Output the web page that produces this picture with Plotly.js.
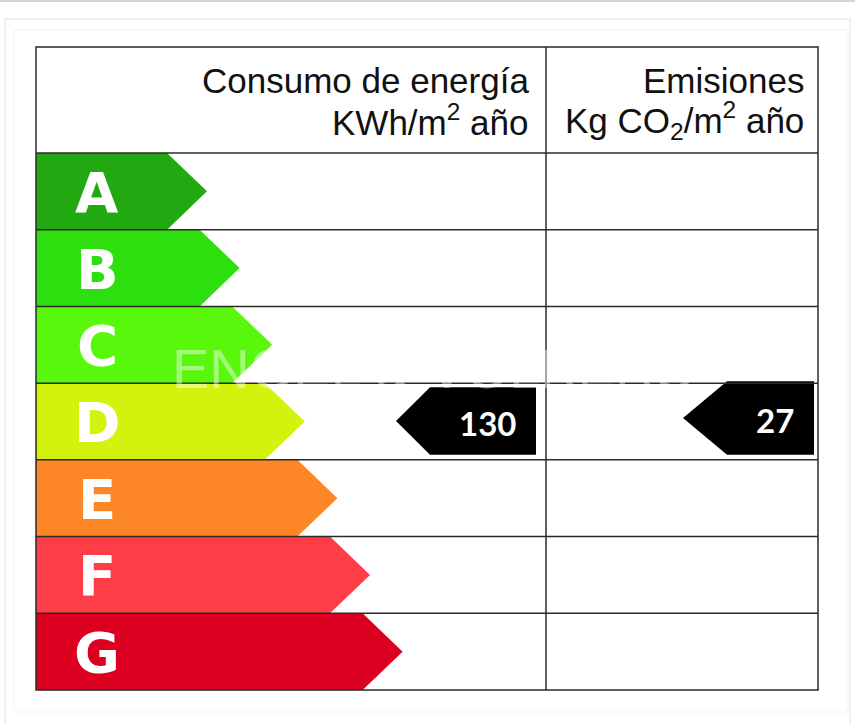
<!DOCTYPE html>
<html>
<head>
<meta charset="utf-8">
<script src="https://cdn.plot.ly/plotly-3.0.1.min.js"></script>
<style>
  html, body { margin: 0; padding: 0; background: #ffffff; }
  #chart { width: 855px; height: 724px; }
</style>
</head>
<body>
<div id="chart"></div>
<script>
// ---- data ----
const classes = ['A', 'B', 'C', 'D', 'E', 'F', 'G'];
const classColors = ['#22a912', '#2ddf0f', '#58f70b', '#d3f30f', '#fd8627', '#ff3d47', '#db001f'];
const columnHeaders = ['Consumo de energía', 'Emisiones'];
const columnUnits = ['KWh/m<sup>2</sup> año', 'Kg CO<sub>2</sub>/m<sup>2</sup> año'];
const energyValue = 130;
const energyClass = 'D';
const emissionValue = 27;
const emissionClass = 'D';
const watermark = 'ENGEL & VÖLKERS';

// ---- geometry (plot units = pixels of the 855x724 canvas) ----
const tblL = 36, tblR = 818, tblT = 47, tblB = 690, colDiv = 546, headB = 153;
const rowH = (tblB - headB) / classes.length;
const rowTop = i => headB + i * rowH;
const rowMid = i => headB + (i + 0.5) * rowH;

const traces = [];
// class arrows
classes.forEach((c, i) => {
  const t = rowTop(i), b = rowTop(i + 1), m = rowMid(i);
  const bodyEnd = 167 + i * 32.6, tip = 207 + i * 32.6;
  traces.push({
    type: 'scatter', mode: 'lines', fill: 'toself', fillcolor: classColors[i],
    line: { width: 0, color: classColors[i] }, hoverinfo: 'skip',
    x: [tblL, bodyEnd, tip, bodyEnd, tblL, tblL],
    y: [t, t, m, b, b, t]
  });
});

// value markers (black arrows pointing left)
function marker(cls, tipX, bodyX, rightX, topOff, botOff) {
  const i = classes.indexOf(cls);
  const t = rowTop(i) + topOff, b = rowTop(i + 1) - botOff, m = (t + b) / 2;
  traces.push({
    type: 'scatter', mode: 'lines', fill: 'toself', fillcolor: '#000000',
    line: { width: 0, color: '#000' }, hoverinfo: 'skip',
    x: [rightX, bodyX, tipX, bodyX, rightX, rightX],
    y: [t, t, m, b, b, t]
  });
  return { x: (bodyX + rightX) / 2 + 4, y: m + 2 };
}
const eM = marker(energyClass, 396, 430, 536, 4, 5);
const cM = marker(emissionClass, 683, 727, 814, -2, 5);

// grid lines
const lineStyle = { color: '#2a2a2a', width: 1.5 };
const shapes = [];
shapes.push({ type: 'rect', xref: 'x', yref: 'y', x0: tblL, x1: tblR, y0: tblT, y1: tblB, line: lineStyle, layer: 'above' });
shapes.push({ type: 'line', xref: 'x', yref: 'y', x0: colDiv, x1: colDiv, y0: tblT, y1: tblB, line: lineStyle, layer: 'above' });
for (let i = 0; i < classes.length; i++) {
  const y = rowTop(i);
  shapes.push({ type: 'line', xref: 'x', yref: 'y', x0: tblL, x1: tblR, y0: y, y1: y, line: lineStyle, layer: 'above' });
}
// faint page decorations
shapes.push({ type: 'line', xref: 'x', yref: 'y', x0: 0, x1: 855, y0: 1, y1: 1, line: { color: '#c8c8c8', width: 1.5 }, layer: 'below' });
shapes.push({ type: 'rect', xref: 'x', yref: 'y', x0: 5, x1: 850, y0: 19, y1: 740, line: { color: '#ececec', width: 1.5 }, layer: 'below' });
shapes.push({ type: 'rect', xref: 'x', yref: 'y', x0: 14, x1: 848, y0: 30, y1: 712, line: { color: '#f3f3f3', width: 1 }, layer: 'below' });

// annotations
const ann = [];
const headFont = { family: 'Liberation Sans, Arial, sans-serif', size: 35, color: '#111111' };
const headRight = [531, 806];
columnHeaders.forEach((h, k) => {
  ann.push({ x: headRight[k], y: 80, xref: 'x', yref: 'y', text: h, showarrow: false, xanchor: 'right', yanchor: 'middle', font: headFont });
  ann.push({ x: headRight[k], y: 120, xref: 'x', yref: 'y', text: columnUnits[k], showarrow: false, xanchor: 'right', yanchor: 'middle', font: headFont });
});
classes.forEach((c, i) => {
  ann.push({ x: 97, y: rowMid(i) + 1, xref: 'x', yref: 'y', text: c, showarrow: false, xanchor: 'center', yanchor: 'middle',
    font: { family: 'DejaVu Sans, sans-serif', size: 56, color: '#ffffff', weight: 'bold' } });
});
const numFont = { family: 'Lato, Open Sans, sans-serif', size: 33, color: '#ffffff', weight: 'bold' };
ann.push({ x: eM.x, y: eM.y, xref: 'x', yref: 'y', text: String(energyValue), showarrow: false, xanchor: 'center', yanchor: 'middle', font: numFont });
ann.push({ x: cM.x, y: cM.y, xref: 'x', yref: 'y', text: String(emissionValue), showarrow: false, xanchor: 'center', yanchor: 'middle', font: numFont });
ann.push({ x: 170, y: 368, xref: 'x', yref: 'y', text: watermark, showarrow: false, xanchor: 'left', yanchor: 'middle',
  font: { family: 'Liberation Sans, Arial, sans-serif', size: 56, color: 'rgba(255,255,255,0.45)' } });

const layout = {
  width: 855, height: 724,
  margin: { l: 0, r: 0, t: 0, b: 0 },
  paper_bgcolor: '#ffffff', plot_bgcolor: '#ffffff',
  showlegend: false, hovermode: false,
  xaxis: { range: [0, 855], visible: false, fixedrange: true },
  yaxis: { range: [724, 0], visible: false, fixedrange: true },
  shapes: shapes,
  annotations: ann
};
Plotly.newPlot('chart', traces, layout, { staticPlot: true, displayModeBar: false });
</script>
</body>
</html>
